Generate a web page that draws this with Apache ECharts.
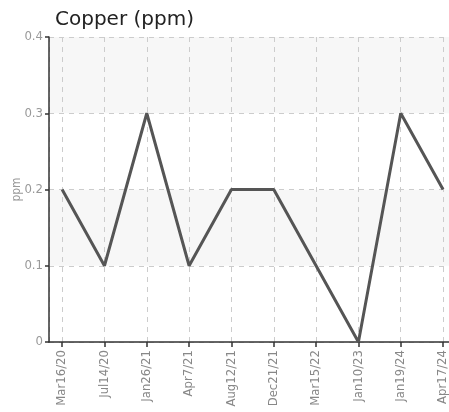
<!DOCTYPE html>
<html>
<head>
<meta charset="utf-8">
<script src="https://cdn.jsdelivr.net/npm/echarts@6/dist/echarts.min.js"></script>
<style>
  html, body { margin: 0; padding: 0; background: #fff; }
  #chart { width: 449px; height: 412px; }
</style>
</head>
<body>
<div id="chart"></div>
<script>
const dates = [
  'Mar16/20',
  'Jul14/20',
  'Jan26/21',
  'Apr7/21',
  'Aug12/21',
  'Dec21/21',
  'Mar15/22',
  'Jan10/23',
  'Jan19/24',
  'Apr17/24',
];
const copper = [0.2, 0.1, 0.3, 0.1, 0.2, 0.2, 0.1, 0, 0.3, 0.2];
const yTicks = [0, 0.1, 0.2, 0.3, 0.4];

const LABEL_FONT = '"Liberation Sans Narrow", "DejaVu Sans Condensed", sans-serif';

const chart = echarts.init(document.getElementById('chart'));

chart.setOption({
  animation: false,
  title: {
    text: 'Copper (ppm)',
    left: 50,
    top: 5,
    textStyle: {
      fontFamily: 'DejaVu Sans',
      fontSize: 20,
      fontWeight: 'normal',
      color: '#222',
    },
  },
  grid: { left: 49, right: 0, top: 37, bottom: 70, outerBoundsMode: 'none' },
  xAxis: {
    type: 'value',
    // leave a little room before the first point and after the last one
    min: -0.31,
    max: 9.14,
    minInterval: 1,
    maxInterval: 1,
    axisLine: { show: true, onZero: false, lineStyle: { color: '#333', width: 1.5 } },
    axisTick: { show: true, length: 5, lineStyle: { color: '#333', width: 1.5 } },
    axisLabel: {
      rotate: 90,
      margin: 8,
      color: '#888',
      fontFamily: LABEL_FONT,
      fontSize: 13,
      showMinLabel: false,
      showMaxLabel: false,
      formatter: (v) => (Number.isInteger(v) ? dates[v] || '' : ''),
    },
    splitLine: {
      show: true,
      lineStyle: { type: [5, 5], color: '#ccc' },
    },
  },
  yAxis: {
    type: 'value',
    min: yTicks[0],
    max: yTicks[yTicks.length - 1],
    interval: 0.1,
    name: 'ppm',
    nameLocation: 'middle',
    nameGap: 26,
    nameMoveOverlap: false,
    nameTextStyle: { color: '#999', fontFamily: LABEL_FONT, fontSize: 12 },
    axisLine: { show: true, onZero: false, lineStyle: { color: '#333', width: 1.5 } },
    axisTick: { show: true, length: 4, lineStyle: { color: '#333', width: 1.5 } },
    axisLabel: {
      color: '#999',
      fontFamily: LABEL_FONT,
      fontSize: 13,
      margin: 6,
    },
    splitLine: {
      show: true,
      lineStyle: { type: [5, 5], color: '#ccc' },
    },
    splitArea: {
      show: true,
      areaStyle: { color: ['#ffffff', '#f7f7f7'] },
    },
  },
  series: [
    {
      type: 'line',
      data: copper.map((v, i) => [i, v]),
      showSymbol: false,
      lineStyle: { color: '#555', width: 3 },
    },
  ],
});
</script>
</body>
</html>
